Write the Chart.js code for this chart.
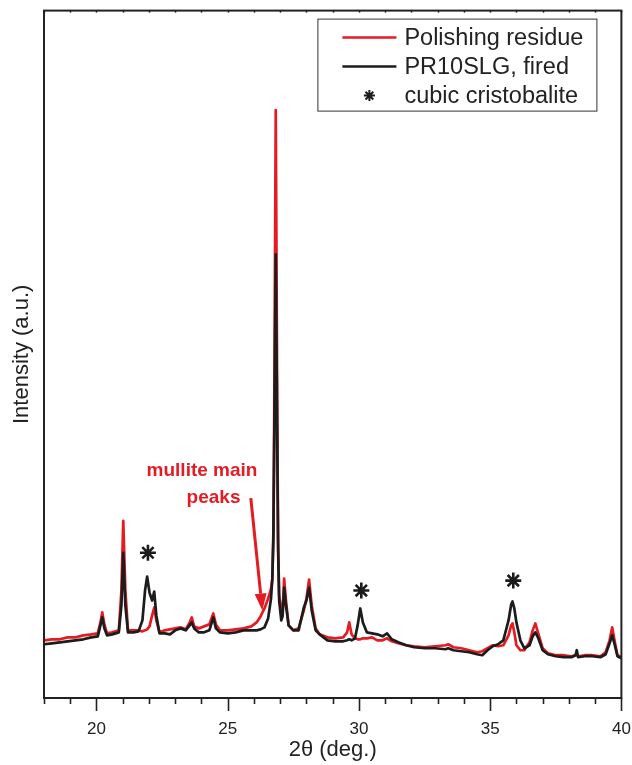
<!DOCTYPE html>
<html>
<head>
<meta charset="utf-8">
<script src="https://cdn.jsdelivr.net/npm/chart.js@4.4.0/dist/chart.umd.min.js"></script>
<style>
html, body { margin: 0; padding: 0; background: #fff; }
#wrap { width: 632px; height: 765px; }
</style>
</head>
<body>
<div id="wrap"><canvas id="xrd"></canvas></div>
<script>
// 2theta positions (deg.)
const twoTheta = [18.0,18.3,18.6,18.9,19.2,19.5,19.8,20.05,20.15,20.22,20.3,20.4,20.6,20.85,20.95,21.02,21.1,21.2,21.4,21.6,
  21.75,21.85,21.93,22.02,22.12,22.2,22.28,22.4,22.6,22.8,23.0,23.2,23.4,23.55,23.63,23.72,23.9,24.1,24.3,24.45,
  24.55,24.7,25.0,25.3,25.6,25.9,26.1,26.25,26.4,26.54,26.65,26.7,26.74,26.77,26.83,26.89,26.92,26.96,27.04,27.09,
  27.15,27.22,27.32,27.5,27.7,27.9,28.0,28.1,28.2,28.35,28.5,28.8,29.1,29.4,29.55,29.63,29.72,29.85,29.95,30.05,
  30.15,30.3,30.5,30.7,30.9,31.07,31.25,31.5,31.8,32.1,32.5,32.9,33.3,33.4,33.6,33.9,34.2,34.5,34.7,34.9,
  35.1,35.3,35.5,35.7,35.8,35.85,35.92,36.0,36.15,36.3,36.5,36.62,36.72,36.82,37.0,37.2,37.5,37.8,38.1,38.25,
  38.3,38.35,38.6,38.9,39.2,39.4,39.55,39.65,39.75,39.85,40.0];

// intensity (a.u.), polishing residue
const residue = [58,59,59,61,61,63,64,65,76,86,74,65,66,68,108,178,108,68,68,68,
  67,68,69,72,83,91,78,66,68,69,70,71,69,76,81,72,70,72,74,85,
  74,68,68,69,70,72,76,82,90,100,110,120,168,278,591,278,158,103,88,86,
  120,98,73,68,70,88,100,119,93,70,64,61,60,61,66,76,64,60,59,59,
  60,60,61,58,58,60,57,55,53,52,51,52,53,54,51,50,48,46,47,50,
  53,52,53,63,73,75,66,53,48,48,56,68,75,66,50,45,43,43,42,43,
  44,42,43,43,42,46,58,71,56,43,41];

// intensity (a.u.), PR10SLG fired
const fired = [54,55,56,57,58,59,61,62,73,81,70,63,64,66,93,146,93,66,66,67,
  78,108,122,106,98,107,83,65,65,64,68,70,68,73,76,70,66,66,68,81,
  70,66,65,66,68,68,68,69,71,80,100,120,160,248,446,248,148,98,78,82,
  111,93,73,68,68,91,98,111,88,68,64,58,57,57,58,59,58,60,73,90,
  76,66,65,64,62,65,59,56,53,51,50,50,49,50,48,47,46,44,43,48,
  52,54,58,78,94,97,90,76,58,50,53,62,66,61,48,44,42,41,41,43,
  48,41,42,42,41,44,55,63,53,42,40];

// cubic cristobalite markers
const cristobaliteTheta = [21.96, 30.09, 35.88];
const cristobaliteLevel = [146, 108, 118];

const xLabels = [20, 25, 30, 35, 40];

const RED = '#e31b23';
const BLACK = '#1c1c1c';
const FONT = "'Liberation Sans', Arial, sans-serif";

const frame = {
  id: 'frame',
  afterDraw(chart) {
    const { ctx, chartArea: a, scales: { x } } = chart;
    ctx.save();
    ctx.strokeStyle = '#222';
    ctx.lineWidth = 2;
    ctx.strokeRect(a.left, a.top, a.right - a.left, a.bottom - a.top);
    ctx.lineWidth = 1.6;
    for (let v = 18; v <= 40; v++) {
      const px = Math.round(x.getPixelForValue(v)) + 0.5;
      const len = v % 5 === 0 ? 13 : 6;
      ctx.beginPath();
      ctx.moveTo(px, a.bottom);
      ctx.lineTo(px, a.bottom + len);
      ctx.stroke();
      ctx.beginPath();
      ctx.moveTo(px, a.top);
      ctx.lineTo(px, a.top + 2);
      ctx.stroke();
    }
    ctx.restore();
  }
};

function asterisk(ctx, cx, cy, r) {
  ctx.beginPath();
  for (let k = 0; k < 4; k++) {
    const t = k * Math.PI / 4;
    ctx.moveTo(cx - r * Math.cos(t), cy - r * Math.sin(t));
    ctx.lineTo(cx + r * Math.cos(t), cy + r * Math.sin(t));
  }
  ctx.stroke();
}

const notes = {
  id: 'notes',
  afterDraw(chart) {
    const { ctx, chartArea: a, scales: { x, y } } = chart;
    ctx.save();
    // annotation
    ctx.fillStyle = RED;
    ctx.strokeStyle = RED;
    ctx.font = 'bold 19px ' + FONT;
    ctx.textAlign = 'center';
    ctx.textBaseline = 'middle';
    ctx.fillText('mullite main', x.getPixelForValue(24.02), y.getPixelForValue(228));
    ctx.fillText('peaks', x.getPixelForValue(24.46), y.getPixelForValue(201));
    const x0 = x.getPixelForValue(25.88), y0 = y.getPixelForValue(201);
    const x1 = x.getPixelForValue(26.32), y1 = y.getPixelForValue(88);
    const ang = Math.atan2(y1 - y0, x1 - x0);
    const hl = 17, hw = 6;
    const bx = x1 - hl * Math.cos(ang), by = y1 - hl * Math.sin(ang);
    ctx.lineWidth = 3;
    ctx.beginPath();
    ctx.moveTo(x0, y0);
    ctx.lineTo(bx, by);
    ctx.stroke();
    ctx.beginPath();
    ctx.moveTo(x1, y1);
    ctx.lineTo(bx + hw * Math.sin(ang), by - hw * Math.cos(ang));
    ctx.lineTo(bx - hw * Math.sin(ang), by + hw * Math.cos(ang));
    ctx.closePath();
    ctx.fill();

    // legend box
    const L = a.right - 304, T = a.top + 8, W = 279, H = 92;
    ctx.fillStyle = '#fff';
    ctx.fillRect(L, T, W, H);
    ctx.strokeStyle = '#333';
    ctx.lineWidth = 1;
    ctx.strokeRect(L + 0.5, T + 0.5, W, H);
    const rows = [
      { text: 'Polishing residue', color: RED },
      { text: 'PR10SLG, fired', color: BLACK },
      { text: 'cubic cristobalite', color: BLACK, star: true }
    ];
    ctx.font = '23.5px ' + FONT;
    ctx.textAlign = 'left';
    ctx.textBaseline = 'middle';
    rows.forEach((r, i) => {
      const cy = T + 19 + i * 29;
      ctx.strokeStyle = r.color;
      if (r.star) {
        ctx.lineWidth = 2;
        asterisk(ctx, L + 52, cy, 5.5);
      } else {
        ctx.lineWidth = 2.5;
        ctx.beginPath();
        ctx.moveTo(L + 25, cy);
        ctx.lineTo(L + 79, cy);
        ctx.stroke();
      }
      ctx.fillStyle = '#222';
      ctx.fillText(r.text, L + 87, cy + 1);
    });
    ctx.restore();
  }
};

new Chart(document.getElementById('xrd'), {
  type: 'line',
  data: {
    datasets: [
      {
        label: 'Polishing residue',
        data: twoTheta.map((t, i) => ({ x: t, y: residue[i] })),
        borderColor: RED,
        borderWidth: 2.7,
        borderJoinStyle: 'round',
        pointRadius: 0,
        order: 2
      },
      {
        label: 'PR10SLG, fired',
        data: twoTheta.map((t, i) => ({ x: t, y: fired[i] })),
        borderColor: BLACK,
        borderWidth: 2.7,
        borderJoinStyle: 'round',
        pointRadius: 0,
        order: 1
      },
      {
        label: 'cubic cristobalite',
        type: 'scatter',
        data: cristobaliteTheta.map((t, i) => ({ x: t, y: cristobaliteLevel[i] })),
        pointStyle: 'star',
        pointRadius: 8,
        pointBorderWidth: 2.6,
        borderColor: BLACK,
        backgroundColor: BLACK,
        order: 0
      }
    ]
  },
  options: {
    responsive: true,
    maintainAspectRatio: false,
    animation: false,
    layout: { padding: { top: 7, right: 10, left: 0, bottom: 0 } },
    plugins: { legend: { display: false }, tooltip: { enabled: false } },
    scales: {
      x: {
        type: 'linear',
        min: 18,
        max: 40,
        afterFit: s => { s.height = 67; s.paddingLeft = 0; s.paddingRight = 0; },
        grid: { display: false },
        border: { display: false },
        ticks: {
          stepSize: 1,
          autoSkip: false,
          maxRotation: 0,
          padding: 13,
          color: '#222',
          font: { size: 17, family: FONT },
          callback: v => xLabels.includes(v) ? String(v) : ''
        },
        title: {
          display: true,
          text: '2θ (deg.)',
          color: '#222',
          font: { size: 22, family: FONT },
          padding: { top: 0, bottom: 2 }
        }
      },
      y: {
        min: 0,
        max: 691,
        afterFit: s => { s.width = 44; s.paddingTop = 0; s.paddingBottom = 0; },
        grid: { display: false },
        border: { display: false },
        ticks: { display: false },
        title: {
          display: true,
          text: 'Intensity (a.u.)',
          color: '#222',
          font: { size: 22, family: FONT },
          padding: { top: 9, bottom: 0 }
        }
      }
    }
  },
  plugins: [frame, notes]
});
</script>
</body>
</html>
